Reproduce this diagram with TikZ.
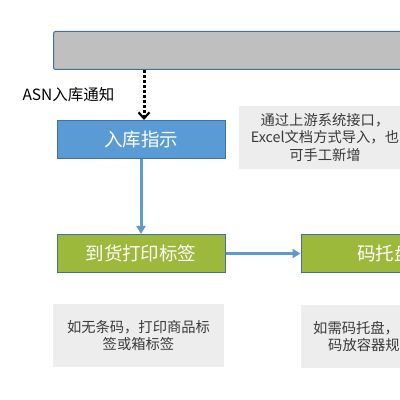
\documentclass[tikz,border=0pt]{standalone}
\usepackage{fontspec}
\setmainfont{Noto Sans CJK SC}
\usepackage{tikz}
\usetikzlibrary{positioning, arrows.meta}

\definecolor{edgeblue}{HTML}{41719C}
\definecolor{stepblue}{HTML}{5B9BD5}
\definecolor{stepgreen}{HTML}{9DB93C}
\definecolor{notegray}{HTML}{EDEDED}
\definecolor{bargray}{HTML}{BFBFBF}
\definecolor{notetext}{HTML}{3A3A3A}

\begin{document}
\begin{tikzpicture}[
        x=1pt, y=1pt,
        node distance=75pt and 75pt,
        stepbox/.style={rectangle, draw=edgeblue, line width=1pt, minimum width=168pt, minimum height=38pt, inner sep=0pt, align=center, text=white, font=\fontsize{18.5}{21}\selectfont},
        notebox/.style={rectangle, fill=notegray, minimum width=172pt, minimum height=63pt, inner sep=0pt, align=center, text=notetext, font=\fontsize{14.3}{17.5}\selectfont},
        arr/.style={-{Triangle[length=8pt, width=9pt]}, line width=3pt, stepblue}
    ]
        \useasboundingbox (0,0) rectangle (400,400);
        \clip (0,0) rectangle (400,400);

        \node[rectangle, rounded corners=2pt, draw=edgeblue, line width=1pt, fill=bargray, minimum width=380pt, minimum height=38pt, anchor=south west] (bar) at (53,330) {};
        \node[stepbox, fill=stepblue] (order) at (141,260.5) {入库指示};
        \node[stepbox, fill=stepgreen, below=of order] (label) {到货打印标签};
        \node[stepbox, fill=stepgreen, right=of label] (pallet) {码托盘};

        \node[notebox] (note1) at (325,262.5) {通过上游系统接口，\\Excel文档方式导入，也\\可手工新增};
        \node[notebox, minimum width=171pt] (note2) at (138.5,64.5) {如无条码，打印商品标\\签或箱标签};
        \node[notebox, align=left, anchor=west, text width=160pt, inner xsep=12pt] (note3) at (301,63.5) {如需码托盘，\\\hspace{1.05em}码放容器规};

        \node[font=\fontsize{15.5}{18}\selectfont] (asn) at (68.5,305) {ASN入库通知};

        \coordinate (src) at (144,330);
        \coordinate (dst) at (144,280);
        \draw[-{Straight Barb[length=6pt, width=11pt, line width=2.2pt]}, line width=3pt, dotted] (src) -- (dst);
        \draw[arr] (order) -- (label);
        \draw[arr] (label) -- (pallet);
    \end{tikzpicture}
\end{document}
